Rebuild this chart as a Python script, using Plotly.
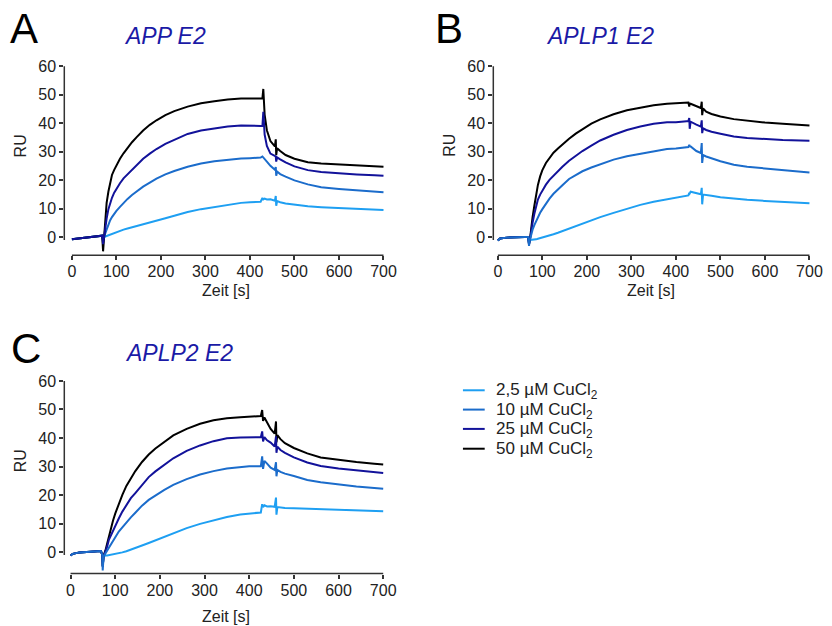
import plotly.graph_objects as go

W, H = 832, 626

# ---------------- data: SPR sensorgrams (RU vs. time in s) ----------------
LABELS = ["2,5 µM CuCl<sub>2</sub>", "10 µM CuCl<sub>2</sub>",
          "25 µM CuCl<sub>2</sub>", "50 µM CuCl<sub>2</sub>"]
COLORS = ["#1E9FF2", "#1B6CCB", "#12129A", "#000000"]

# APP E2
A_T = [0, 20, 40, 60, 68, 70, 72,
       75, 78, 82, 86, 90, 95, 100, 108, 116, 125, 135, 145, 160, 175, 190, 210, 230,
       260, 290, 320, 350, 380, 400, 424, 428, 430, 433, 438, 446, 456, 458, 459, 461,
       468, 480, 500, 530, 560, 600, 640, 680, 700]
A_2_5 = [-0.8, -0.4, -0.1, 0.3, 0.5, -1.0, 0.0,
         0.2, 0.4, 0.6, 0.9, 1.1, 1.4, 1.7, 2.1, 2.6, 3.0, 3.4, 3.9, 4.5, 5.1, 5.7, 6.6, 7.5,
         8.8, 9.8, 10.6, 11.4, 12.0, 12.2, 12.4, 13.7, 13.2, 13.5, 13.2, 13.3, 12.8, 14.4,
         11.0, 12.6, 12.2, 11.8, 11.3, 10.8, 10.5, 10.2, 9.9, 9.6, 9.5]
A_10 = [-0.8, -0.4, -0.1, 0.3, 0.5, -1.5, 0.0,
        1.3, 2.6, 4.5, 5.9, 7.0, 8.2, 9.2, 10.6, 12.0, 13.4, 14.8, 16.0, 17.7, 19.1, 20.5,
        22.0, 23.2,
        24.7, 25.8, 26.6, 27.2, 27.6, 27.7, 27.9, 28.3, 28.0, 27.5, 26.5, 25.0, 23.6, 24.6,
        21.5, 23.0, 22.1, 21.2, 19.9, 18.5, 17.5, 16.9, 16.5, 16.0, 15.7]
A_25 = [-0.8, -0.4, -0.1, 0.3, 0.5, -2.5, 0.0,
        3.5, 6.5, 9.8, 12.0, 13.8, 15.6, 17.0, 18.9, 20.6, 22.0, 23.8, 25.4, 27.5, 29.3,
        30.9, 32.7, 34.2,
        36.2, 37.4, 38.2, 38.8, 39.2, 39.0, 39.0, 39.0, 44.0, 36.0, 32.0, 29.3, 28.6, 28.3,
        26.5, 28.0, 27.3, 26.2, 24.8, 23.5, 22.8, 22.3, 22.0, 21.7, 21.5]
A_50 = [-0.8, -0.4, -0.1, 0.3, 0.5, -5.0, -1.0,
        7.5, 12.0, 16.0, 19.2, 21.8, 23.6, 25.2, 27.5, 29.4, 31.3, 33.3, 35.0, 37.4, 39.4,
        41.0, 42.8, 44.2,
        45.8, 47.0, 47.7, 48.3, 48.6, 48.7, 48.7, 48.7, 52.0, 43.0, 37.5, 33.7, 31.8, 34.3,
        28.8, 31.2, 30.2, 28.8, 27.5, 26.3, 25.8, 25.5, 25.2, 24.9, 24.7]

# APLP1 E2
B_T = [0, 5, 20, 40, 60, 68, 70, 72,
       75, 78, 82, 86, 90, 95, 100, 108, 116, 125, 135, 145, 160, 175, 190, 210, 230,
       260, 290, 320, 350, 380, 400, 424, 428, 430, 431, 433, 438, 446, 456, 458, 459,
       461, 468, 480, 500, 530, 560, 600, 640, 680, 700]
B_2_5 = [-1.2, -0.5, -0.2, 0.0, 0.0, 0.0, -2.0, -1.0,
         -1.0, -1.0, -0.9, -0.8, -0.6, -0.4, -0.2, 0.2, 0.6, 1.0, 1.5, 2.1, 3.0, 3.8, 4.6,
         5.8, 7.0,
         8.5, 10.0, 11.3, 12.4, 13.2, 13.7, 14.3, 14.6, 15.5, 15.3, 15.9, 15.7, 15.2, 15.0,
         17.3, 11.5, 14.9, 14.8, 14.5, 14.0, 13.5, 13.1, 12.7, 12.3, 12.0, 11.9]
B_10 = [-1.2, -0.5, -0.2, 0.0, 0.0, 0.0, -3.1, -1.0,
        1.3, 2.6, 4.2, 5.7, 7.0, 8.5, 9.8, 11.8, 13.5, 15.2, 16.8, 18.2, 20.4, 21.9, 23.1,
        24.4, 25.6,
        27.2, 28.4, 29.3, 30.2, 30.9, 31.1, 31.4, 31.6, 32.4, 31.9, 31.8, 31.2, 30.2, 29.5,
        33.0, 26.0, 28.8, 28.3, 27.6, 26.6, 25.4, 24.7, 24.1, 23.5, 23.0, 22.7]
B_25 = [-1.2, -0.5, -0.2, 0.0, 0.0, 0.0, -2.5, -1.0,
        2.5, 5.0, 8.2, 11.0, 13.2, 14.9, 16.4, 18.4, 20.1, 21.6, 23.2, 24.7, 26.8, 28.5,
        30.2, 32.1, 33.9,
        35.9, 37.6, 38.8, 39.8, 40.3, 40.3, 40.7, 40.7, 41.8, 38.0, 40.5, 40.2, 39.5, 38.8,
        41.0, 36.5, 38.2, 37.6, 37.0, 36.3, 35.3, 34.8, 34.4, 34.1, 33.9, 33.8]
B_50 = [-1.2, -0.5, -0.2, 0.0, 0.0, 0.0, -2.5, -1.0,
        3.5, 7.0, 11.0, 15.0, 18.3, 21.3, 23.5, 26.0, 27.9, 29.6, 31.1, 32.6, 34.5, 36.3,
        37.9, 39.8, 41.3,
        43.1, 44.5, 45.5, 46.3, 46.8, 47.0, 47.3, 47.2, 45.8, 46.9, 46.8, 46.5, 45.9, 45.3,
        47.5, 42.8, 45.2, 44.0, 43.2, 42.3, 41.4, 40.8, 40.2, 39.8, 39.4, 39.2]

# APLP2 E2
C_T = [0, 5, 20, 40, 60, 68, 71, 72, 74, 78,
       82, 86, 90, 95, 100, 108, 116, 125, 135, 145, 160, 175, 190, 210, 230,
       260, 290, 320, 350, 380, 400, 426, 429, 431, 434, 440, 448, 457, 460, 461, 463,
       470, 480, 500, 530, 560, 600, 640, 680, 700]
C_2_5 = [-1.2, -0.6, -0.1, 0.1, 0.3, 0.4, -1.0, -5.0, -1.5, -1.2,
         -1.2, -1.1, -0.9, -0.8, -0.6, -0.4, -0.1, 0.3, 0.8, 1.4, 2.3, 3.2, 4.1, 5.4, 6.6,
         8.4, 9.9, 11.1, 12.3, 13.2, 13.6, 13.9, 16.8, 15.8, 16.4, 16.0, 16.1, 15.9, 19.1,
         13.1, 15.8, 15.6, 15.5, 15.4, 15.2, 15.1, 14.9, 14.6, 14.4, 14.3]
C_10 = [-1.2, -0.6, -0.1, 0.1, 0.3, 0.4, -1.0, -6.4, -1.5, -0.5,
        0.8, 2.0, 3.0, 4.1, 5.5, 7.2, 8.7, 10.5, 12.2, 13.8, 16.3, 18.3, 19.9, 21.8, 23.6,
        25.6, 27.2, 28.4, 29.3, 29.9, 30.1, 30.1, 33.6, 29.2, 32.0, 31.0, 29.6, 28.8, 31.5,
        26.6, 28.8, 28.1, 27.5, 26.7, 25.3, 24.5, 23.7, 23.0, 22.5, 22.2]
C_25 = [-1.2, -0.6, -0.1, 0.1, 0.3, 0.4, -1.0, -5.0, -1.5, 0.0,
        2.0, 4.4, 5.8, 7.5, 9.2, 11.8, 14.2, 16.5, 18.9, 20.7, 23.6, 26.3, 28.3, 30.7, 32.9,
        35.5, 37.4, 38.9, 39.9, 40.2, 40.2, 40.3, 42.3, 38.8, 40.3, 39.2, 38.4, 37.0, 40.6,
        34.8, 37.0, 35.8, 34.8, 33.2, 31.4, 30.2, 29.3, 28.6, 28.0, 27.7]
C_50 = [-1.2, -0.6, -0.1, 0.1, 0.3, 0.4, -1.0, -5.0, -1.2, 0.5,
        3.0, 5.8, 8.3, 11.0, 13.5, 16.9, 20.1, 23.2, 26.0, 28.4, 31.6, 34.2, 36.3, 38.7, 40.9,
        43.2, 45.0, 46.2, 46.9, 47.3, 47.5, 47.7, 49.8, 46.0, 47.2, 45.5, 43.2, 41.5, 45.8,
        38.5, 41.0, 39.6, 38.2, 36.5, 34.6, 33.2, 32.3, 31.6, 31.0, 30.7]

X_TICKS = [0, 100, 200, 300, 400, 500, 600, 700]
Y_TICKS = [0, 10, 20, 30, 40, 50, 60]

FONT = "Liberation Sans, Arial, sans-serif"
AXIS_COL = "#333333"
TEXT_COL = "#222222"
TITLE_COL = "#1A1AA6"

# page layout is laid out in pixels; the page sits a few px lower in the viewport
Y_SHIFT = 5


def px_x(p):
    return p / W


def px_y(p):
    return 1 - (p - Y_SHIFT) / H


# panel geometry (pixels): left, right, top, bottom, x range, y range
panels = [
    dict(name="", t=A_T, series=[A_2_5, A_10, A_25, A_50], order=[0, 1, 3, 2],
         box=(65, 392, 62, 256.7), xr=[-17.1, 709.6], yr=[-6.4, 61.3]),
    dict(name="2", t=B_T, series=[B_2_5, B_10, B_25, B_50], order=[0, 3, 2, 1],
         box=(498.7, 826, 62, 256.7), xr=[-10.2, 717.1], yr=[-6.4, 61.3]),
    dict(name="3", t=C_T, series=[C_2_5, C_10, C_25, C_50], order=[0, 3, 2, 1],
         box=(65, 392, 381, 578), xr=[-14.0, 710.2], yr=[-7.5, 60.9]),
]

fig = go.Figure()
shapes = []
layout_axes = {}

for p in panels:
    xa = "x" + p["name"]
    ya = "y" + p["name"]
    for k in p["order"]:
        fig.add_trace(go.Scatter(
            x=p["t"], y=p["series"][k], mode="lines",
            line=dict(color=COLORS[k], width=2),
            name=LABELS[k], showlegend=False,
            xaxis=xa, yaxis=ya, hoverinfo="skip"))
    L, R, T, B = p["box"]
    common = dict(showgrid=False, zeroline=False, showline=False, ticks="outside",
                  ticklen=4, tickwidth=1.5, tickcolor=AXIS_COL,
                  tickfont=dict(family=FONT, size=16, color=TEXT_COL))
    layout_axes["xaxis" + p["name"]] = dict(
        domain=[px_x(L), px_x(R)], range=p["xr"], anchor=ya,
        tickvals=X_TICKS, ticklabelstandoff=-2, **common)
    layout_axes["yaxis" + p["name"]] = dict(
        domain=[px_y(B), px_y(T)], range=p["yr"], anchor=xa,
        tickvals=Y_TICKS, **common)
    # detached axis spines
    shapes.append(dict(type="line", xref=xa, yref=ya + " domain",
                       x0=0, x1=700, y0=0, y1=0,
                       line=dict(color=AXIS_COL, width=1.5)))
    shapes.append(dict(type="line", xref=xa + " domain", yref=ya,
                       x0=0, x1=0, y0=-1, y1=60,
                       line=dict(color=AXIS_COL, width=1.5)))

annotations = []


def text(x, y, s, size, color="#000000", angle=0, xanchor="center"):
    annotations.append(dict(x=px_x(x), y=px_y(y), xref="paper", yref="paper",
                            text=s, showarrow=False, textangle=angle,
                            xanchor=xanchor, yanchor="middle",
                            font=dict(family=FONT, size=size, color=color)))


# panel letters and titles
text(24, 28, "A", 42)
text(454, 28, "B", 42)
text(26, 351, "C", 42)
text(167, 35, "<i>APP E2</i>", 23, TITLE_COL)
text(607, 35, "<i>APLP1 E2</i>", 23, TITLE_COL)
text(181, 355, "<i>APLP2 E2</i>", 23, TITLE_COL)

# axis titles
for (x, y) in [(21, 146), (455, 146), (21, 464)]:
    text(x, y, "RU", 16, TEXT_COL, -90)
for (x, y) in [(228, 292), (658, 292), (228, 621)]:
    text(x, y, "Zeit [s]", 16, TEXT_COL)

# concentration key
LEG_ROWS = [393, 412.5, 432, 452]
for k, yrow in enumerate(LEG_ROWS):
    shapes.append(dict(type="line", xref="paper", yref="paper",
                       x0=px_x(468), x1=px_x(490), y0=px_y(yrow), y1=px_y(yrow),
                       line=dict(color=COLORS[k], width=2)))
    text(499, yrow + 1, LABELS[k], 17, TEXT_COL, xanchor="left")

fig.update_layout(
    width=W, height=H, margin=dict(l=0, r=0, t=0, b=0),
    paper_bgcolor="white", plot_bgcolor="white",
    font=dict(family=FONT, size=16, color=TEXT_COL),
    showlegend=False,
    shapes=shapes, annotations=annotations,
    **layout_axes,
)

fig.write_html("out.html")
